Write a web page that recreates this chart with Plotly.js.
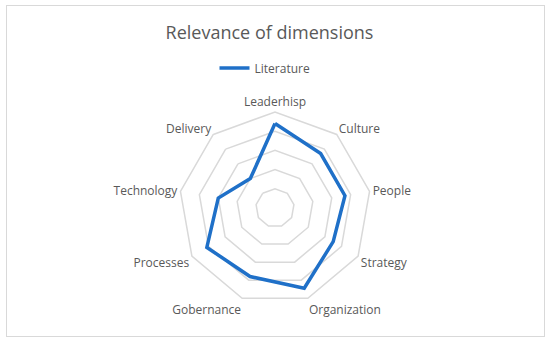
<!DOCTYPE html>
<html><head><meta charset="utf-8">
<script src="https://cdn.plot.ly/plotly-3.0.1.min.js"></script>
<style>
html,body{margin:0;padding:0;background:#fff;}
#frame{position:absolute;left:6px;top:5px;width:537px;height:330px;border:1px solid #d9d9d9;}
#chart{position:absolute;left:0;top:0;width:550px;height:344px;}
</style></head>
<body>
<div id="frame"></div>
<div id="chart"></div>
<script>
var categories = ["Leaderhisp","Culture","People","Strategy","Organization","Gobernance","Processes","Technology","Delivery"];
var literature = [4.4, 3.7, 3.7, 3.5, 4.45, 3.8, 4.1, 3.0, 2.0];
var seriesName = "Literature";

var theta = categories.concat([categories[0]]);
var r = literature.concat([literature[0]]);

var trace = {
  type: "scatterpolar",
  mode: "lines",
  name: seriesName,
  theta: theta,
  r: r,
  line: {color: "#1f70c8", width: 3.5},
  showlegend: true,
  hoverinfo: "skip"
};

var layout = {
  width: 550, height: 344,
  margin: {l:0, r:0, t:0, b:0},
  paper_bgcolor: "rgba(0,0,0,0)",
  plot_bgcolor: "rgba(0,0,0,0)",
  font: {family: "Open Sans, Liberation Sans, sans-serif", color: "#595959", size: 12},
  title: {text: "Relevance of dimensions", x: 0.49, xanchor: "center", y: 1-33/344, yanchor: "middle",
          font: {size: 18, color: "#595959", family: "Open Sans, sans-serif"}},
  showlegend: true,
  legend: {orientation: "h", x: 265/550, xanchor: "center", y: 1-68/344, yanchor: "middle",
           itemwidth: 30, font: {size: 12, color: "#595959"}, bgcolor: "rgba(0,0,0,0)"},
  polar: {
    domain: {x: [179/550, 371/550], y: [1-304/344, 1-112/344]},
    bgcolor: "rgba(0,0,0,0)",
    gridshape: "linear",
    radialaxis: {range: [0, 5], dtick: 1, showticklabels: false, ticks: "", showline: false,
                 gridcolor: "#d9d9d9", gridwidth: 1.5},
    angularaxis: {rotation: 90, direction: "clockwise", showgrid: false, ticks: "",
                  linecolor: "#d9d9d9", linewidth: 1.5, showline: true,
                  tickfont: {size: 12, color: "#595959"}}
  }
};

Plotly.newPlot("chart", [trace], layout, {displayModeBar: false, staticPlot: true});
</script>
</body></html>
